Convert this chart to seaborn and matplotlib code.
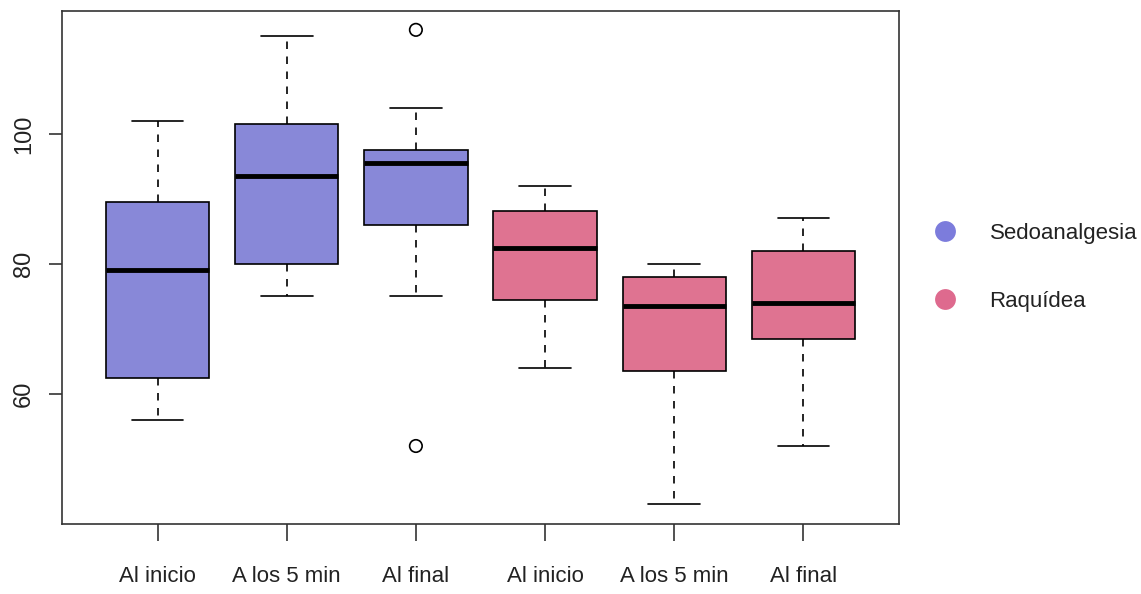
import numpy as np
import pandas as pd
import matplotlib
matplotlib.use("Agg")
import matplotlib.pyplot as plt
from matplotlib.lines import Line2D
import seaborn as sns

# Resumen de cada caja
grupos = ["S-inicio", "S-5min", "S-final", "R-inicio", "R-5min", "R-final"]
anestesia = ["Sedoanalgesia"] * 3 + ["Raquídea"] * 3
momentos = ["Al inicio", "A los 5 min", "Al final", "Al inicio", "A los 5 min", "Al final"]
bigote_inf = [56, 75, 75, 64, 43.1, 52]
q1 = [62.5, 80, 86, 74.5, 63.6, 68.4]
mediana = [79.1, 93.5, 95.5, 82.5, 73.5, 74]
q3 = [89.5, 101.5, 97.5, 88.1, 78, 82]
bigote_sup = [102, 115.1, 104, 92, 80, 87]

# Valores atípicos
atip_grupo = ["S-final", "S-final"]
atip_valor = [116, 52]

colores = {"Sedoanalgesia": "#8888D8", "Raquídea": "#DF7391"}
colores_ley = {"Sedoanalgesia": "#7C7CDC", "Raquídea": "#DE6A8E"}


def main():
    sns.set_style("ticks")
    plt.rcParams["font.family"] = ["Liberation Sans", "DejaVu Sans"]

    filas = []
    for g, a, lo, a1, m, a3, hi in zip(grupos, anestesia, bigote_inf, q1, mediana, q3, bigote_sup):
        for v in (lo, a1, m, a3, hi):
            filas.append({"grupo": g, "anestesia": a, "valor": v})
    df = pd.DataFrame(filas)
    df_atip = pd.DataFrame({"grupo": atip_grupo, "valor": atip_valor})

    fig = plt.figure(figsize=(11.41, 5.94), dpi=100)
    ax = fig.add_axes([0.0543, 0.1178, 0.7336, 0.8637])

    sns.boxplot(data=df, x="grupo", y="valor", hue="anestesia", order=grupos,
                palette=colores, saturation=1, dodge=False, width=0.8, whis=(0, 100),
                linecolor="black", linewidth=1.2, legend=False, ax=ax,
                medianprops={"linewidth": 3.5, "color": "black"},
                whiskerprops={"linestyle": (0, (4.5, 4.5)), "linewidth": 1.2},
                capprops={"linewidth": 1.2}, showfliers=False)

    sns.stripplot(data=df_atip, x="grupo", y="valor", order=grupos, jitter=False,
                  marker="o", s=9, facecolors="none", edgecolor="black",
                  linewidth=1.2, ax=ax)

    ax.set_xlim(-0.74, 5.74)
    ax.set_ylim(40, 118.9)
    ax.set_xticks(range(len(momentos)))
    ax.set_xticklabels(momentos, fontsize=16)
    ax.set_yticks([60, 80, 100])
    ax.set_yticklabels(["60", "80", "100"], rotation=90, va="center", fontsize=17)
    ax.set_xlabel("")
    ax.set_ylabel("")
    ax.tick_params(axis="x", bottom=True, length=12, width=1.1, pad=18,
                   color="#222222", labelcolor="#222222")
    ax.tick_params(axis="y", left=True, length=9.5, width=1.1, pad=10,
                   color="#222222", labelcolor="#222222")
    for sp in ax.spines.values():
        sp.set_visible(True)
        sp.set_color("#333333")
        sp.set_linewidth(1.2)

    handles = [Line2D([], [], linestyle="none", marker="o", markersize=15,
                      markerfacecolor=colores_ley[k], markeredgecolor="none")
               for k in ["Sedoanalgesia", "Raquídea"]]
    fig.legend(handles, ["Sedoanalgesia", "Raquídea"], loc="center left",
               bbox_to_anchor=(0.8205, 0.5497), frameon=False, fontsize=16,
               borderpad=0, borderaxespad=0, handlelength=0.8, handletextpad=1.6,
               labelspacing=2.1, labelcolor="#222222")

    fig.savefig("out.png", dpi=100)


if __name__ == "__main__":
    main()
